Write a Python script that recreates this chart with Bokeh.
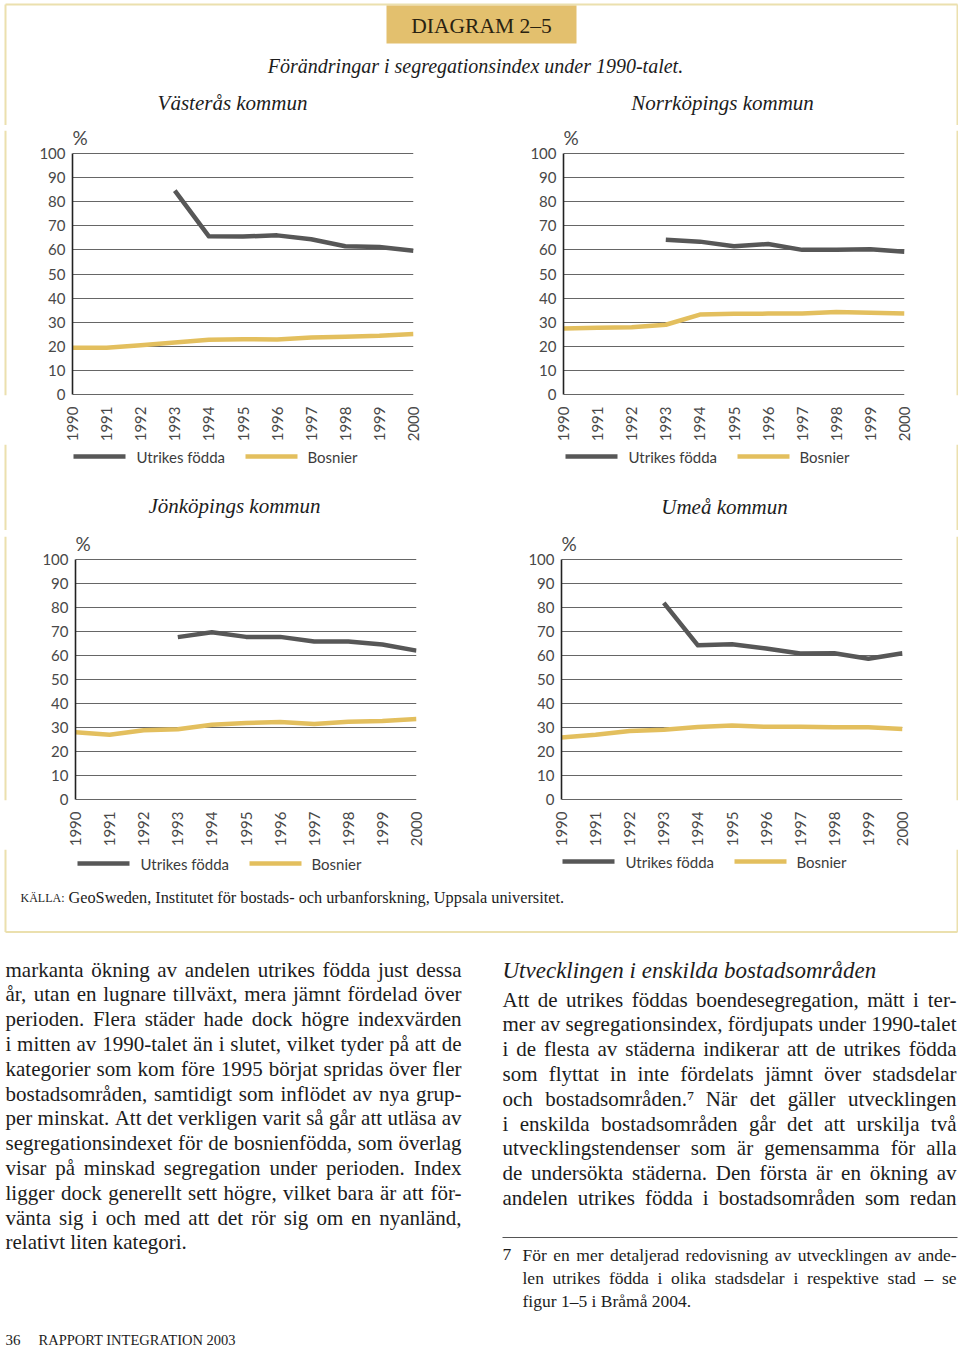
import math
from bokeh.plotting import figure
from bokeh.layouts import column, row
from bokeh.models import Range1d, FixedTicker
from bokeh.core.properties import value
from bokeh.embed import file_html
from bokeh.resources import INLINE

NAN = float("nan")

# ---------------- data ----------------
years = [1990, 1991, 1992, 1993, 1994, 1995, 1996, 1997, 1998, 1999, 2000]
y_ticks = [0, 10, 20, 30, 40, 50, 60, 70, 80, 90, 100]
series_names = ["Utrikes födda", "Bosnier"]

vasteras_utrikes = [NAN, NAN, NAN, 84.5, 65.6, 65.5, 66.0, 64.4, 61.5, 61.2, 59.6]
vasteras_bosnier = [19.5, 19.5, 20.5, 21.6, 22.8, 23.0, 22.9, 23.7, 24.0, 24.4, 25.2]

norrkoping_utrikes = [NAN, NAN, NAN, 64.2, 63.4, 61.5, 62.4, 60.0, 60.0, 60.3, 59.2]
norrkoping_bosnier = [27.4, 27.8, 28.0, 29.0, 33.2, 33.5, 33.6, 33.6, 34.3, 34.0, 33.6]

jonkoping_utrikes = [NAN, NAN, NAN, 67.6, 69.6, 67.7, 67.7, 65.8, 65.8, 64.5, 62.0]
jonkoping_bosnier = [28.1, 27.0, 28.9, 29.3, 31.2, 31.9, 32.3, 31.5, 32.4, 32.7, 33.6]

umea_utrikes = [NAN, NAN, NAN, 81.8, 64.2, 64.6, 62.9, 60.8, 60.9, 58.6, 60.9]
umea_bosnier = [25.9, 27.0, 28.6, 29.1, 30.2, 30.9, 30.3, 30.3, 30.1, 30.1, 29.4]

diagram_label = "DIAGRAM 2–5"
main_title = "Förändringar i segregationsindex under 1990-talet."
chart_titles = ["Västerås kommun", "Norrköpings kommun", "Jönköpings kommun", "Umeå kommun"]
unit_label = "%"
source_caps = "KÄLLA:"
source_text = "GeoSweden, Institutet för bostads- och urbanforskning, Uppsala universitet."

left_lines = [
    "markanta ökning av andelen utrikes födda just dessa",
    "år, utan en lugnare tillväxt, mera jämnt fördelad över",
    "perioden. Flera städer hade dock högre indexvärden",
    "i mitten av 1990-talet än i slutet, vilket tyder på att de",
    "kategorier som kom före 1995 börjat spridas över fler",
    "bostadsområden, samtidigt som inflödet av nya grup-",
    "per minskat. Att det verkligen varit så går att utläsa av",
    "segregationsindexet för de bosnienfödda, som överlag",
    "visar på minskad segregation under perioden. Index",
    "ligger dock generellt sett högre, vilket bara är att för-",
    "vänta sig i och med att det rör sig om en nyanländ,",
    "relativt liten kategori.",
]
right_heading = "Utvecklingen i enskilda bostadsområden"
right_lines = [
    "Att de utrikes föddas boendesegregation, mätt i ter-",
    "mer av segregationsindex, fördjupats under 1990-talet",
    "i de flesta av städerna indikerar att de utrikes födda",
    "som flyttat in inte fördelats jämnt över stadsdelar",
    "och bostadsområden.⁷ När det gäller utvecklingen",
    "i enskilda bostadsområden går det att urskilja två",
    "utvecklingstendenser som är gemensamma för alla",
    "de undersökta städerna. Den första är en ökning av",
    "andelen utrikes födda i bostadsområden som redan",
]
footnote_number = "7"
footnote_lines = [
    "För en mer detaljerad redovisning av utvecklingen av ande-",
    "len utrikes födda i olika stadsdelar i respektive stad – se",
    "figur 1–5 i Bråmå 2004.",
]
footer_page = "36"
footer_text = "RAPPORT INTEGRATION 2003"

# ---------------- style ----------------
FRAME = "#ebe0ae"
GOLD = "#e3bf5e"
GREY = "#575757"
LABEL_BG = "#e3c06e"
SERIF = "Liberation Serif"
SANS = "Lato"
INK = "#1c1c1c"
AXIS_TXT = "#484848"
TOTAL_W = 958
PX_PER_UNIT = 2.47

# approximate Times-compatible widths (per 1000 em) for justification
CW = {' ': 250, '!': 333, ',': 250, '-': 333, '.': 250, ':': 278, '–': 500, '⁷': 300,
      'A': 722, 'B': 667, 'C': 667, 'D': 722, 'E': 611, 'F': 556, 'G': 722, 'H': 722,
      'I': 333, 'J': 389, 'K': 722, 'L': 611, 'M': 889, 'N': 722, 'O': 722, 'P': 556,
      'Q': 722, 'R': 667, 'S': 556, 'T': 611, 'U': 722, 'V': 722, 'W': 944, 'X': 722,
      'Y': 722, 'Z': 611, 'a': 444, 'b': 500, 'c': 444, 'd': 500, 'e': 444, 'f': 333,
      'g': 500, 'h': 500, 'i': 278, 'j': 278, 'k': 500, 'l': 278, 'm': 778, 'n': 500,
      'o': 500, 'p': 500, 'q': 500, 'r': 333, 's': 389, 't': 278, 'u': 500, 'v': 500,
      'w': 722, 'x': 500, 'y': 500, 'z': 444, 'å': 444, 'ä': 444, 'ö': 500,
      'Å': 722, 'Ä': 722, 'Ö': 722}
for d in "0123456789":
    CW[d] = 500


def text_width(s, size):
    return sum(CW.get(c, 500) for c in s) * size / 1000.0


def justify(lines, x0, x1, y0, dy, size, last_justified):
    lx, ly, lt, rx, ry, rt = [], [], [], [], [], []
    for i, line in enumerate(lines):
        y = y0 + i * dy
        words = line.split(" ")
        is_last = i == len(lines) - 1
        if (is_last and not last_justified) or len(words) == 1:
            lx.append(x0); ly.append(y); lt.append(line)
            continue
        widths = [text_width(w, size) for w in words]
        gap = (x1 - x0 - sum(widths)) / (len(words) - 1)
        gap = max(gap, 0.15 * size)
        x = x0
        for w, wd in zip(words[:-1], widths[:-1]):
            lx.append(x); ly.append(y); lt.append(w)
            x += wd + gap
        rx.append(x1); ry.append(y); rt.append(words[-1])
    return (lx, ly, lt), (rx, ry, rt)


def canvas(w, h, y_top, y_bottom, x_left=0, x_right=TOTAL_W):
    p = figure(width=w, height=h, x_range=Range1d(x_left, x_right),
               y_range=Range1d(y_bottom, y_top), output_backend="svg",
               toolbar_location=None, min_border=0,
               x_axis_location=None, y_axis_location=None)
    p.grid.visible = False
    p.outline_line_color = None
    p.background_fill_color = "white"
    p.border_fill_color = "white"
    return p


def edge(w, h, x_line):
    p = canvas(w, h, 0, 1, 0, w)
    p.segment(x0=[x_line], y0=[0], x1=[x_line], y1=[1], line_color=FRAME, line_width=2)
    return p


def chart(utr, bos, left, top, H, W=470, fw=341, fh=271):
    y_top = -0.3 + fh / PX_PER_UNIT
    p = figure(width=W, height=H, x_range=Range1d(1990, 2000),
               y_range=Range1d(-0.3, y_top), output_backend="svg",
               toolbar_location=None,
               min_border_left=left, min_border_right=W - left - fw,
               min_border_top=top, min_border_bottom=H - top - fh)
    p.outline_line_color = None
    p.xgrid.visible = False
    p.ygrid.ticker = FixedTicker(ticks=y_ticks)
    p.ygrid.grid_line_color = "#666666"
    p.ygrid.grid_line_width = 1

    p.yaxis.ticker = FixedTicker(ticks=y_ticks)
    p.yaxis.bounds = (0, 100)
    p.yaxis.axis_line_color = "#222222"
    p.yaxis.axis_line_width = 1.6
    p.yaxis.major_tick_line_color = None
    p.yaxis.minor_tick_line_color = None
    p.yaxis.major_label_standoff = 1
    p.yaxis.major_label_text_font = SANS
    p.yaxis.major_label_text_font_size = "15px"
    p.yaxis.major_label_text_color = AXIS_TXT

    p.xaxis.ticker = FixedTicker(ticks=years)
    p.xaxis.axis_line_color = None
    p.xaxis.major_tick_line_color = None
    p.xaxis.minor_tick_line_color = None
    p.xaxis.major_label_orientation = math.pi / 2
    p.xaxis.major_label_standoff = 5
    p.xaxis.major_label_text_font = SANS
    p.xaxis.major_label_text_font_size = "15px"
    p.xaxis.major_label_text_color = AXIS_TXT

    p.line(years, utr, line_color=GREY, line_width=4.5, line_join="round")
    p.line(years, bos, line_color=GOLD, line_width=4.5, line_join="round")

    p.text(x=[years[0]], y=[y_ticks[-1]], text=[unit_label], x_offset=0, y_offset=-4,
           text_font=value(SANS), text_font_size="19px", text_color=AXIS_TXT,
           text_align="left", text_baseline="bottom")
    return p


def legend(p, x_line, y):
    # legend sample lines + labels
    p.segment(x0=[x_line, x_line + 172], y0=[y, y], x1=[x_line + 52, x_line + 224], y1=[y, y],
              line_color=[GREY, GOLD], line_width=4.5)
    p.text(x=[x_line + 63, x_line + 234], y=[y, y], text=series_names,
           text_font=value(SANS), text_font_size="15px", text_color="#3c3c3c",
           text_align="left", text_baseline="middle")


# ---------------- header (page y 0..125) ----------------
hdr = canvas(TOTAL_W, 125, 0, 125)
hdr.segment(x0=[5, 957, 5], y0=[4, 4, 4], x1=[5, 957, 957], y1=[125, 125, 4],
            line_color=FRAME, line_width=2)
hdr.quad(left=[386], right=[576], top=[5], bottom=[43], fill_color=LABEL_BG, line_color=None)
hdr.text(x=[481], y=[25], text=[diagram_label], text_font=value(SERIF),
         text_font_size="21.5px", text_align="center", text_baseline="middle",
         text_color="#2a2210")
hdr.text(x=[475], y=[65], text=[main_title], text_font=value(SERIF),
         text_font_style="italic", text_font_size="20px", text_align="center",
         text_baseline="middle", text_color=INK)
hdr.text(x=[232, 722], y=[102, 102], text=chart_titles[:2], text_font=value(SERIF),
         text_font_style="italic", text_font_size="21px", text_align="center",
         text_baseline="middle", text_color=INK)

# ---------------- row 1 (page y 125..444) ----------------
R1 = 319
c_vas = chart(vasteras_utrikes, vasteras_bosnier, left=62, top=5, H=R1)
c_nor = chart(norrkoping_utrikes, norrkoping_bosnier, left=83, top=5, H=R1)
row1 = row(edge(10, R1, 5), c_vas, c_nor, edge(8, R1, 7))

# ---------------- mid: legends row 1 + titles row 2 (page y 444..530) ----------------
mid = canvas(TOTAL_W, 86, 444, 530)
mid.segment(x0=[5, 957], y0=[444, 444], x1=[5, 957], y1=[530, 530],
            line_color=FRAME, line_width=2)
legend(mid, 73, 456)
legend(mid, 565, 456)
mid.text(x=[234, 724], y=[505, 506], text=chart_titles[2:], text_font=value(SERIF),
         text_font_style="italic", text_font_size="21px", text_align="center",
         text_baseline="middle", text_color=INK)

# ---------------- row 2 (page y 530..849) ----------------
R2 = 319
c_jon = chart(jonkoping_utrikes, jonkoping_bosnier, left=65, top=6, H=R2)
c_ume = chart(umea_utrikes, umea_bosnier, left=81, top=4, H=R2)
row2 = row(edge(10, R2, 5), c_jon, c_ume, edge(8, R2, 7))

# ---------------- bottom (page y 849..1346) ----------------
bot = canvas(TOTAL_W, 497, 849, 1346)
bot.segment(x0=[5, 957, 5], y0=[849, 849, 931.5], x1=[5, 957, 957], y1=[931.5, 931.5, 931.5],
            line_color=FRAME, line_width=2)
legend(bot, 77, 863)
legend(bot, 562, 861)
bot.text(x=[20], y=[897], text=[source_caps], text_font=value(SERIF), text_font_size="12px",
         text_align="left", text_baseline="middle", text_color=INK)
bot.text(x=[68], y=[897], text=[source_text], text_font=value(SERIF), text_font_size="16.3px",
         text_align="left", text_baseline="middle", text_color=INK)

BODY = 21
(lx, ly, lt), (rx, ry, rt) = justify(left_lines, 5, 461, 969, 24.8, BODY, False)
bot.text(x=lx, y=ly, text=lt, text_font=value(SERIF), text_font_size=f"{BODY}px",
         text_align="left", text_baseline="middle", text_color=INK)
bot.text(x=rx, y=ry, text=rt, text_font=value(SERIF), text_font_size=f"{BODY}px",
         text_align="right", text_baseline="middle", text_color=INK)

bot.text(x=[502], y=[970], text=[right_heading], text_font=value(SERIF),
         text_font_style="italic", text_font_size="23px", text_align="left",
         text_baseline="middle", text_color=INK)
(lx, ly, lt), (rx, ry, rt) = justify(right_lines, 502, 956, 999, 24.8, BODY, True)
bot.text(x=lx, y=ly, text=lt, text_font=value(SERIF), text_font_size=f"{BODY}px",
         text_align="left", text_baseline="middle", text_color=INK)
bot.text(x=rx, y=ry, text=rt, text_font=value(SERIF), text_font_size=f"{BODY}px",
         text_align="right", text_baseline="middle", text_color=INK)

bot.segment(x0=[502], y0=[1237], x1=[957], y1=[1237], line_color="#555555", line_width=1)
FN = 17.5
bot.text(x=[502], y=[1254], text=[footnote_number], text_font=value(SERIF),
         text_font_size=f"{FN}px", text_align="left", text_baseline="middle", text_color=INK)
(lx, ly, lt), (rx, ry, rt) = justify(footnote_lines, 522, 956, 1254, 23, FN, False)
bot.text(x=lx, y=ly, text=lt, text_font=value(SERIF), text_font_size=f"{FN}px",
         text_align="left", text_baseline="middle", text_color=INK)
bot.text(x=rx, y=ry, text=rt, text_font=value(SERIF), text_font_size=f"{FN}px",
         text_align="right", text_baseline="middle", text_color=INK)

bot.text(x=[5], y=[1339], text=[footer_page], text_font=value(SERIF), text_font_size="15px",
         text_align="left", text_baseline="middle", text_color=INK)
bot.text(x=[38], y=[1339], text=[footer_text], text_font=value(SERIF), text_font_size="14.5px",
         text_align="left", text_baseline="middle", text_color=INK)

page = column(hdr, row1, mid, row2, bot)

with open("out.html", "w") as f:
    f.write(file_html(page, INLINE))
